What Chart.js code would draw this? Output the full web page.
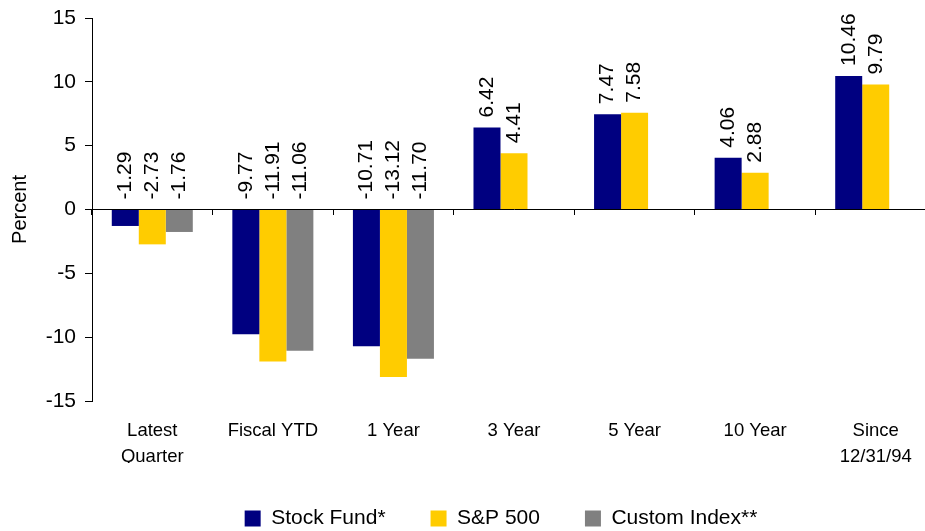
<!DOCTYPE html>
<html>
<head>
<meta charset="utf-8">
<script src="https://cdn.jsdelivr.net/npm/chart.js@4.4.0/dist/chart.umd.min.js"></script>
<style>
  html, body { margin: 0; padding: 0; overflow: hidden; background: #fff; }
  #wrap { width: 925px; height: 531px; overflow: hidden; }
</style>
</head>
<body>
<div id="wrap"><canvas id="returns-chart" width="1002" height="539"></canvas></div>
<script>
var categories = [['Latest', 'Quarter'], 'Fiscal YTD', '1 Year', '3 Year', '5 Year', '10 Year', ['Since', '12/31/94']];
var stockFund = [-1.29, -9.77, -10.71, 6.42, 7.47, 4.06, 10.46];
var sp500 = [-2.73, -11.91, -13.12, 4.41, 7.58, 2.88, 9.79];
var customIndex = [-1.76, -11.06, -11.70, null, null, null, null];
var yTicks = { min: -15, max: 15, step: 5 };

Chart.defaults.font.family = "'Liberation Sans', Arial, sans-serif";
Chart.defaults.color = '#000';

// value labels, turned upright, sitting above the bar (or above zero for negatives)
var barLabels = {
    id: 'barLabels',
    afterDatasetsDraw: function(chart) {
        var ctx = chart.ctx;
        var zero = chart.scales.y.getPixelForValue(0);
        ctx.save();
        ctx.font = "21px 'Liberation Sans', Arial, sans-serif";
        ctx.fillStyle = '#000';
        ctx.textAlign = 'left';
        ctx.textBaseline = 'middle';
        chart.data.datasets.forEach(function(ds, i) {
            var meta = chart.getDatasetMeta(i);
            meta.data.forEach(function(bar, j) {
                var v = ds.data[j];
                if (v === null) {
                    return;
                }
                var top = v >= 0 ? bar.y : zero;
                ctx.save();
                ctx.translate(bar.x, top - 10);
                ctx.rotate(-Math.PI / 2);
                ctx.fillText(v.toFixed(2), 0, 0);
                ctx.restore();
            });
        });
        ctx.restore();
    }
};

new Chart(document.getElementById('returns-chart'), {
    type: 'bar',
    data: {
        labels: categories,
        datasets: [
            { label: 'Stock Fund*', data: stockFund, backgroundColor: '#000080' },
            { label: 'S&P 500', data: sp500, backgroundColor: '#FFCC00' },
            { label: 'Custom Index**', data: customIndex, backgroundColor: '#808080' }
        ]
    },
    options: {
        responsive: false,
        animation: false,
        events: [],
        layout: { padding: { top: 18, left: 0, right: 0, bottom: 0 } },
        datasets: {
            bar: { categoryPercentage: 0.672, barPercentage: 1.0 }
        },
        plugins: {
            tooltip: { enabled: false },
            legend: {
                position: 'bottom',
                labels: {
                    boxWidth: 16,
                    boxHeight: 16,
                    padding: 45,
                    font: { size: 21 },
                    color: '#000'
                }
            }
        },
        scales: {
            x: {
                grid: { display: false, drawTicks: false },
                border: { display: false },
                ticks: {
                    font: { size: 18.5, lineHeight: 1.45 },
                    color: '#000',
                    padding: 16,
                    maxRotation: 0,
                    autoSkip: false
                },
                afterFit: function(scale) { scale.height = 62; }
            },
            xZero: {
                type: 'category',
                axis: 'x',
                position: { y: 0 },
                offset: true,
                grid: { offset: true, drawOnChartArea: false, drawTicks: true, tickLength: 5, color: '#000' },
                border: { display: true, color: '#000', width: 1 },
                ticks: { display: false }
            },
            y: {
                position: 'left',
                min: yTicks.min,
                max: yTicks.max,
                ticks: {
                    stepSize: yTicks.step,
                    font: { size: 21, lineHeight: 0.8 },
                    color: '#000',
                    padding: 9
                },
                grid: { drawOnChartArea: false, drawTicks: true, tickLength: 7, color: '#000' },
                border: { display: true, color: '#000', width: 1 },
                title: {
                    display: true,
                    text: 'Percent',
                    font: { size: 20 },
                    color: '#000',
                    padding: { top: 8, bottom: 0 }
                },
                afterFit: function(scale) { scale.width = 92; }
            },
            ySpacer: {
                type: 'linear',
                position: 'right',
                grid: { display: false },
                border: { display: false },
                ticks: { display: false },
                afterFit: function(scale) { scale.width = 66; }
            }
        }
    },
    plugins: [barLabels]
});
</script>
</body>
</html>
